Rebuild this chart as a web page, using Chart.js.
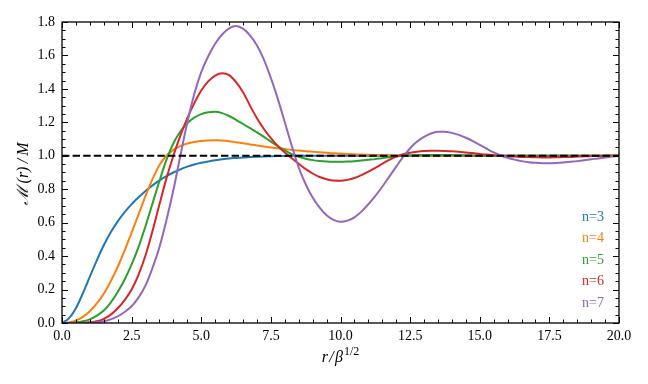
<!DOCTYPE html>
<html>
<head>
<meta charset="utf-8">
<script src="https://cdn.jsdelivr.net/npm/chart.js@4/dist/chart.umd.min.js"></script>
<style>
  html, body { margin: 0; padding: 0; background: #fff; }
  canvas { display: block; }
</style>
</head>
<body>
<canvas id="c" width="648" height="384"></canvas>
<script>
// ---- data ----
const xs = [
  0,0.25,0.5,0.75, 1,1.25,1.5,1.75, 2,2.25,2.5,2.75, 3,3.25,3.5,3.75,
  4,4.25,4.5,4.75, 5,5.25,5.5,5.75, 6,6.25,6.5,6.75, 7,7.25,7.5,7.75,
  8,8.25,8.5,8.75, 9,9.25,9.5,9.75, 10,10.25,10.5,10.75, 11,11.25,11.5,11.75,
  12,12.25,12.5,12.75, 13,13.25,13.5,13.75, 14,14.25,14.5,14.75, 15,15.25,15.5,15.75,
  16,16.25,16.5,16.75, 17,17.25,17.5,17.75, 18,18.25,18.5,18.75, 19,19.25,19.5,19.75,
  20];

const n3 = [
  0,0.028,0.088,0.178, 0.277,0.375,0.465,0.542, 0.608,0.663,0.711,0.752, 0.79,0.823,0.853,0.878,
  0.90,0.919,0.935,0.948, 0.958,0.966,0.973,0.979, 0.984,0.987,0.99,0.992, 0.994,0.996,0.997,0.998,
  0.999,1,1,1, 1,1,1,1, 1,1,1,1, 1,1,1,1,
  1,1,1,1, 1,1,1,1, 1,1,1,1, 1,1,1,1,
  1,1,1,1, 1,1,1,1, 1,1,1,1, 1,1,1,1,
  1];
const n4 = [
  0,0.003,0.015,0.037, 0.07,0.117,0.175,0.25, 0.335,0.435,0.54,0.65, 0.76,0.86,0.945,1.0,
  1.035,1.058,1.073,1.083, 1.089,1.092,1.093,1.091, 1.087,1.081,1.075,1.068, 1.062,1.056,1.05,1.045,
  1.04,1.035,1.031,1.027, 1.024,1.021,1.018,1.015, 1.013,1.011,1.009,1.007, 1.006,1.005,1.004,1.003,
  1.002,1.002,1.001,1.001, 1,1,1,1, 1,1,1,1, 1,1,1,1,
  1,1,1,1, 1,1,1,1, 1,1,1,1, 1,1,1,1,
  1];
const n5 = [
  0,0,0.003,0.01, 0.022,0.044,0.075,0.122, 0.185,0.26,0.35,0.455, 0.58,0.715,0.85,0.975,
  1.075,1.145,1.195,1.228, 1.249,1.26,1.263,1.255, 1.238,1.215,1.19,1.165, 1.14,1.113,1.085,1.058,
  1.032,1.01,0.994,0.982, 0.974,0.969,0.966,0.965, 0.965,0.966,0.968,0.972, 0.976,0.98,0.986,0.991,
  0.996,1.0,1.002,1.004, 1.005,1.005,1.005,1.004, 1.004,1.003,1.002,1.001, 1,1,1,1,
  1,1,1,1, 1,1,1,1, 1,1,1,1, 1,1,1,1,
  1];
const n6 = [
  0,0,0,0.001, 0.004,0.01,0.025,0.05, 0.088,0.137,0.2,0.29, 0.405,0.55,0.71,0.865,
  1.0,1.12,1.225,1.315, 1.39,1.445,1.48,1.493, 1.482,1.44,1.38,1.3, 1.225,1.16,1.105,1.058,
  1.02,0.985,0.952,0.92, 0.894,0.873,0.86,0.852, 0.851,0.856,0.867,0.884, 0.905,0.928,0.952,0.975,
  0.995,1.009,1.018,1.024, 1.028,1.03,1.03,1.029, 1.027,1.024,1.02,1.016, 1.011,1.007,1.003,1.0,
  0.997,0.995,0.993,0.992, 0.991,0.99,0.99,0.991, 0.992,0.993,0.995,0.997, 0.998,0.999,1.0,1.0,
  1.0];
const n7 = [
  0,0,0,0, 0.001,0.004,0.01,0.022, 0.04,0.066,0.1,0.153, 0.225,0.33,0.455,0.615,
  0.795,1.0,1.2,1.37, 1.5,1.595,1.67,1.725, 1.762,1.776,1.76,1.72, 1.66,1.575,1.465,1.34,
  1.2,1.06,0.93,0.83, 0.75,0.69,0.645,0.617, 0.605,0.612,0.632,0.666, 0.71,0.76,0.815,0.875,
  0.935,0.993,1.045,1.085, 1.113,1.133,1.143,1.144, 1.137,1.125,1.108,1.088, 1.065,1.042,1.02,1.002,
  0.988,0.977,0.968,0.962, 0.958,0.956,0.956,0.957, 0.96,0.964,0.968,0.973, 0.979,0.984,0.99,0.995,
  1.0];
const refX = [0, 20];
const refY = [1, 1];

const seriesLabels = ['n=3','n=4','n=5','n=6','n=7'];
const seriesData = [n3, n4, n5, n6, n7];
const seriesColors = ['#1f77b4','#ff7f0e','#2ca02c','#d62728','#9467bd'];

const xTickStep = 2.5, xMinorStep = 0.5;
const yTickStep = 0.2, yMinorStep = 0.05;

const SERIF = '"Liberation Serif", "DejaVu Serif", serif';

function pts(xArr, yArr) { return xArr.map((x, i) => ({ x: x, y: yArr[i] })); }

const datasets = [{
  label: 'ref',
  data: pts(refX, refY),
  borderColor: '#000',
  borderWidth: 2,
  borderDash: [7.4, 3.2],
  pointRadius: 0,
  order: 0
}];
seriesData.forEach((d, i) => {
  datasets.push({
    label: seriesLabels[i],
    data: pts(xs, d),
    borderColor: seriesColors[i],
    borderWidth: 2,
    pointRadius: 0,
    cubicInterpolationMode: 'monotone',
    fill: false,
    order: 5 - i
  });
});

const framePlugin = {
  id: 'frame',
  afterDatasetsDraw(chart) {
    const { ctx, chartArea: a, scales } = chart;
    const xs_ = scales.x, ys_ = scales.y;
    ctx.save();
    ctx.strokeStyle = '#000';
    ctx.lineWidth = 1.3;
    ctx.strokeRect(a.left, a.top, a.right - a.left, a.bottom - a.top);
    ctx.lineWidth = 1;
    ctx.beginPath();
    const maj = 6, mnr = 3.5;
    for (let v = xs_.min; v <= xs_.max + 1e-9; v += xMinorStep) {
      const isMaj = Math.abs(v / xTickStep - Math.round(v / xTickStep)) < 1e-6;
      const L = isMaj ? maj : mnr;
      const px = Math.round(xs_.getPixelForValue(v)) + 0.5;
      ctx.moveTo(px, a.bottom); ctx.lineTo(px, a.bottom - L);
      ctx.moveTo(px, a.top); ctx.lineTo(px, a.top + L);
    }
    for (let v = ys_.min; v <= ys_.max + 1e-9; v += yMinorStep) {
      const isMaj = Math.abs(v / yTickStep - Math.round(v / yTickStep)) < 1e-6;
      const L = isMaj ? maj : mnr;
      const py = Math.round(ys_.getPixelForValue(v)) + 0.5;
      ctx.moveTo(a.left, py); ctx.lineTo(a.left + L, py);
      ctx.moveTo(a.right, py); ctx.lineTo(a.right - L, py);
    }
    ctx.stroke();

    // legend: coloured text only
    ctx.font = '14px ' + SERIF;
    ctx.textAlign = 'right';
    ctx.textBaseline = 'middle';
    seriesLabels.forEach((lab, i) => {
      ctx.fillStyle = seriesColors[i];
      ctx.fillText(lab, a.right - 15, 217 + i * 21.5);
    });

    // x axis title: r/β^{1/2}
    ctx.fillStyle = '#000';
    ctx.textAlign = 'left';
    ctx.textBaseline = 'alphabetic';
    const cx = (a.left + a.right) / 2;
    const base = 362;
    const f1 = 'italic 16px ' + SERIF, f2 = '12px ' + SERIF;
    const t1 = 'r\u200A/\u200Aβ';
    const t2 = '1/2';
    ctx.font = f1; const w1 = ctx.measureText(t1).width;
    ctx.font = f2; const w2 = ctx.measureText(t2).width;
    const start = cx - (w1 + w2 + 1) / 2;
    ctx.font = f1; ctx.fillText(t1, start, base);
    ctx.font = f2; ctx.fillText(t2, start + w1 + 1, base - 7);

    // y axis title: ℳ(r)/M
    ctx.save();
    ctx.translate(28, (a.top + a.bottom) / 2 + 1);
    ctx.rotate(-Math.PI / 2);
    ctx.textAlign = 'center';
    ctx.font = 'italic 16px ' + SERIF;
    ctx.fillText('ℳ\u2009(r)\u2009/\u2009M', 0, 0);
    ctx.restore();
    ctx.restore();
  }
};

const tickFont = { family: SERIF, size: 14 };

new Chart(document.getElementById('c'), {
  type: 'line',
  data: { datasets: datasets },
  options: {
    responsive: false,
    animation: false,
    devicePixelRatio: 1,
    layout: { padding: { top: 22, right: 29, left: 0, bottom: 0 } },
    plugins: { legend: { display: false }, tooltip: { enabled: false } },
    scales: {
      x: {
        type: 'linear', min: 0, max: 20,
        ticks: { stepSize: xTickStep, color: '#000', font: tickFont, padding: 5,
                 maxRotation: 0, autoSkip: false, callback: v => Number(v).toFixed(1) },
        grid: { display: false, drawTicks: false },
        border: { display: false },
        afterFit: s => { s.height = 61; }
      },
      y: {
        type: 'linear', min: 0, max: 1.8,
        ticks: { stepSize: yTickStep, color: '#000', font: tickFont, padding: 7,
                 autoSkip: false, callback: v => Number(v).toFixed(1) },
        grid: { display: false, drawTicks: false },
        border: { display: false },
        afterFit: s => { s.width = 62; }
      }
    }
  },
  plugins: [framePlugin]
});
</script>
</body>
</html>
